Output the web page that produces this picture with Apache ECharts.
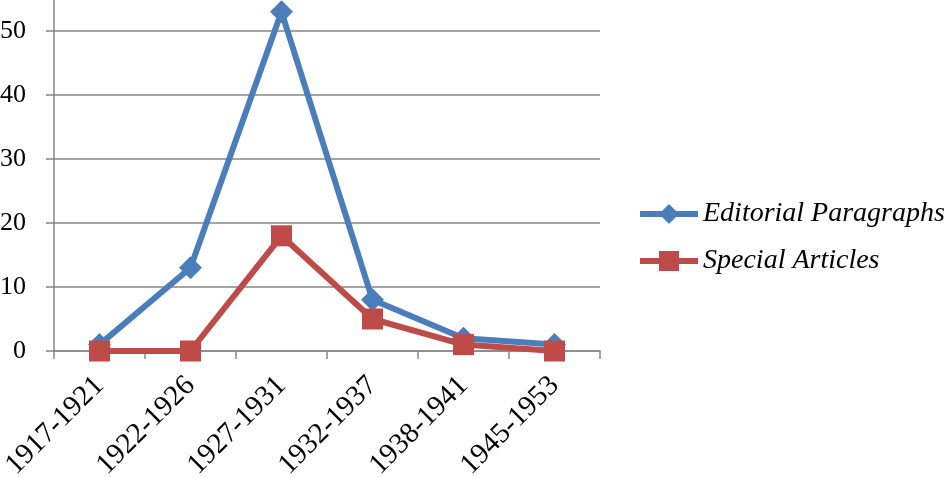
<!DOCTYPE html>
<html>
<head>
<meta charset="utf-8">
<script src="https://cdn.jsdelivr.net/npm/echarts@6/dist/echarts.min.js"></script>
<style>html,body{margin:0;padding:0;background:#fff;overflow:hidden;width:945px;height:478px;position:relative;}#c{position:absolute;left:0;top:-33px;width:945px;height:511px;}</style>
</head>
<body>
<div id="c"></div>
<script>
var categories = ['1917-1921', '1922-1926', '1927-1931', '1932-1937', '1938-1941', '1945-1953'];
var editorialParagraphs = [1, 13, 53, 8, 2, 1];
var specialArticles = [0, 0, 18, 5, 1, 0];
var seriesNames = ['Editorial Paragraphs', 'Special Articles'];

var FONT = 'Liberation Serif';
var chart = echarts.init(document.getElementById('c'));
chart.setOption({
  animation: false,
  backgroundColor: '#ffffff',
  grid: { left: 54, right: 345, top: 0, bottom: 127, containLabel: false, outerBoundsMode: 'none' },
  legend: {
    orient: 'vertical',
    left: 632,
    top: 226,
    itemWidth: 58,
    itemHeight: 25,
    itemGap: 15,
    lineStyle: { width: 6 },
    textStyle: { fontFamily: FONT, fontSize: 28, fontStyle: 'italic', color: '#000', lineHeight: 32 },
    data: seriesNames
  },
  xAxis: {
    type: 'category',
    data: categories,
    boundaryGap: true,
    axisLine: { show: true, lineStyle: { color: '#868686', width: 1.5 } },
    axisTick: { show: true, length: 8, alignWithLabel: false, lineStyle: { color: '#868686', width: 1.5 } },
    axisLabel: { rotate: 45, margin: 30, fontFamily: FONT, fontSize: 29, color: '#000', interval: 0 },
    splitLine: { show: false }
  },
  yAxis: {
    type: 'value',
    min: 0,
    max: 60,
    interval: 10,
    axisLine: { show: true, lineStyle: { color: '#868686', width: 1.5 } },
    axisTick: { show: true, length: 8, lineStyle: { color: '#868686', width: 1.5 } },
    axisLabel: { margin: 28, fontFamily: FONT, fontSize: 26, color: '#000' },
    splitLine: { show: true, lineStyle: { color: '#868686', width: 1.5 } }
  },
  series: [
    {
      name: seriesNames[0],
      type: 'line',
      data: editorialParagraphs,
      symbol: 'diamond',
      symbolSize: 23,
      lineStyle: { color: '#4a7ebb', width: 6 },
      itemStyle: { color: '#4a7ebb' }
    },
    {
      name: seriesNames[1],
      type: 'line',
      data: specialArticles,
      symbol: 'rect',
      symbolSize: 21,
      lineStyle: { color: '#be4b48', width: 6 },
      itemStyle: { color: '#be4b48' }
    }
  ]
});
</script>
</body>
</html>
